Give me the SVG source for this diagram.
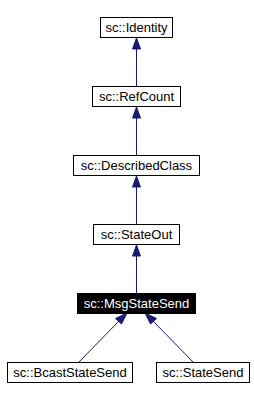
<svg xmlns="http://www.w3.org/2000/svg" width="254" height="401" viewBox="0 0 254 401">
<style>
.n{fill:#fff;stroke:#000;stroke-width:1}
.t{font-family:"Liberation Sans",Arial,sans-serif;font-size:13px;fill:#000;text-anchor:middle}
.e{stroke:#191970;stroke-width:1;fill:none}
.h{fill:#191970;stroke:#191970;stroke-width:1}
</style>
<rect width="254" height="401" fill="#fff"/>
<g id="edges">
<line class="e" x1="136.5" y1="86" x2="136.5" y2="47"/>
<polygon class="h" points="136.5,38 132.5,49 140.5,49"/>
<line class="e" x1="136.5" y1="155" x2="136.5" y2="116"/>
<polygon class="h" points="136.5,107 132.5,118 140.5,118"/>
<line class="e" x1="136.5" y1="224" x2="136.5" y2="185"/>
<polygon class="h" points="136.5,176 132.5,187 140.5,187"/>
<line class="e" x1="136.5" y1="293" x2="136.5" y2="254"/>
<polygon class="h" points="136.5,245 132.5,256 140.5,256"/>
<line class="e" x1="79" y1="362" x2="119" y2="321"/>
<polygon class="h" points="127,313 115.5,318.5 121.5,324"/>
<line class="e" x1="193" y1="362" x2="153" y2="321"/>
<polygon class="h" points="145,313 150.5,324 156.5,318.5"/>
</g>
<g id="identity"><rect class="n" x="100.5" y="17.5" width="72" height="20"/><text class="t" x="136.5" y="32">sc::Identity</text></g>
<g id="refcount"><rect class="n" x="92.5" y="86.5" width="88" height="20"/><text class="t" x="136.5" y="101">sc::RefCount</text></g>
<g id="describedclass"><rect class="n" x="73.5" y="155.5" width="126" height="20"/><text class="t" x="136.5" y="170">sc::DescribedClass</text></g>
<g id="stateout"><rect class="n" x="93.5" y="224.5" width="86" height="20"/><text class="t" x="136.5" y="239">sc::StateOut</text></g>
<g id="msgstatesend"><rect x="77.5" y="293.5" width="118" height="20" fill="#000" stroke="#000"/><text class="t" x="136.5" y="308" fill="#fff" style="fill:#fff">sc::MsgStateSend</text></g>
<g id="bcaststatesend"><rect class="n" x="7.5" y="362.5" width="125" height="20"/><text class="t" x="70" y="377">sc::BcastStateSend</text></g>
<g id="statesend"><rect class="n" x="156.5" y="362.5" width="93" height="20"/><text class="t" x="203" y="377">sc::StateSend</text></g>
</svg>
